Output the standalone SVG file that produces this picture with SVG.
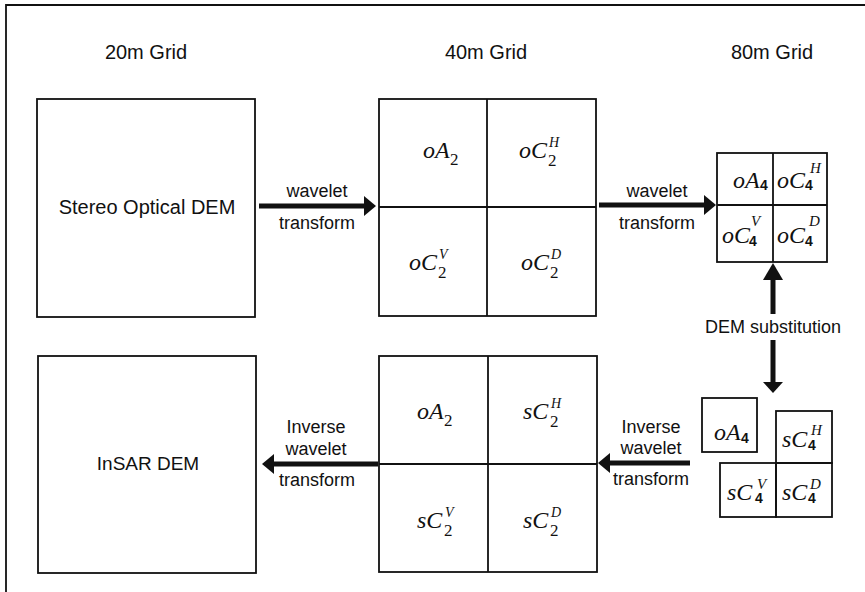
<svg xmlns="http://www.w3.org/2000/svg" width="865" height="592" viewBox="0 0 865 592">
<style>
.box{fill:none;stroke:#111;stroke-width:1.8}
.div{stroke:#111;stroke-width:1.8}
.t{font-family:"Liberation Sans",Arial,sans-serif;fill:#111;text-anchor:middle}
.title{font-size:20px}
.lbl{font-size:20px}
.al{font-size:18px}
.m{font-family:"Liberation Serif","Times New Roman",serif;font-style:italic;font-size:24px;fill:#111}
.sp{font-family:"Liberation Serif","Times New Roman",serif;font-style:italic;font-size:14px;fill:#111}
.sb{font-family:"Liberation Serif","Times New Roman",serif;font-size:17px;fill:#111}
.sp4{font-family:"Liberation Serif","Times New Roman",serif;font-style:italic;font-size:15px;fill:#111}
.sb4{font-family:"Liberation Sans",Arial,sans-serif;font-weight:bold;font-size:14px;fill:#111}
.shaft{stroke:#111;stroke-width:5;fill:none}
.head{fill:#111}
</style>
<rect width="865" height="592" fill="#fff"/>
<path d="M6,592 V5 H865" fill="none" stroke="#111" stroke-width="1.8"/>

<g id="titles">
<text class="t title" x="146" y="59">20m Grid</text>
<text class="t title" x="486" y="59">40m Grid</text>
<text class="t title" x="772" y="59">80m Grid</text>
</g>

<g id="stereo-dem">
<rect class="box" x="37" y="99" width="218" height="218"/>
<text class="t lbl" x="147" y="214">Stereo Optical DEM</text>
</g>

<g id="insar-dem">
<rect class="box" x="38" y="356" width="218" height="217"/>
<text class="t lbl" x="148" y="470" style="font-size:19px">InSAR DEM</text>
</g>

<g id="optical-40m">
<rect class="box" x="379" y="99" width="217" height="217"/>
<line class="div" x1="379" y1="207" x2="596" y2="207"/>
<line class="div" x1="487" y1="99" x2="487" y2="316"/>
<text class="m" x="423" y="158">oA</text><text class="sb" x="450" y="165">2</text>
<text class="m" x="519" y="158">oC</text><text class="sp" x="549" y="147">H</text><text class="sb" x="548" y="166">2</text>
<text class="m" x="409" y="270">oC</text><text class="sp" x="439" y="259">V</text><text class="sb" x="438" y="278">2</text>
<text class="m" x="521" y="270">oC</text><text class="sp" x="551" y="259">D</text><text class="sb" x="550" y="278">2</text>
</g>

<g id="synth-40m">
<rect class="box" x="379" y="356" width="218" height="216"/>
<line class="div" x1="379" y1="464" x2="597" y2="464"/>
<line class="div" x1="488" y1="356" x2="488" y2="572"/>
<text class="m" x="417" y="419">oA</text><text class="sb" x="444" y="426">2</text>
<text class="m" x="523" y="419">sC</text><text class="sp" x="551" y="408">H</text><text class="sb" x="550" y="427">2</text>
<text class="m" x="417" y="528">sC</text><text class="sp" x="445" y="517">V</text><text class="sb" x="444" y="536">2</text>
<text class="m" x="523" y="528">sC</text><text class="sp" x="551" y="517">D</text><text class="sb" x="550" y="536">2</text>
</g>

<g id="optical-80m">
<rect class="box" x="717" y="153" width="110" height="109"/>
<line class="div" x1="717" y1="205" x2="827" y2="205"/>
<line class="div" x1="773" y1="153" x2="773" y2="262"/>
<text class="m" x="733" y="188">oA</text><text class="sb4" x="760" y="190">4</text>
<text class="m" x="777" y="188">oC</text><text class="sp4" x="810" y="173">H</text><text class="sb4" x="805" y="190">4</text>
<text class="m" x="722" y="243">oC</text><text class="sp4" x="751" y="226">V</text><text class="sb4" x="749" y="246">4</text>
<text class="m" x="777" y="243">oC</text><text class="sp4" x="809" y="226">D</text><text class="sb4" x="805" y="246">4</text>
</g>

<g id="oA4-box">
<rect class="box" x="702" y="398" width="55" height="54"/>
<text class="m" x="714" y="440">oA</text><text class="sb4" x="741" y="443">4</text>
</g>

<g id="synth-80m">
<rect class="box" x="776" y="411" width="56" height="52"/>
<rect class="box" x="720" y="463" width="56" height="54"/>
<rect class="box" x="776" y="463" width="56" height="54"/>
<text class="m" x="782" y="447">sC</text><text class="sp4" x="811" y="435">H</text><text class="sb4" x="808" y="450">4</text>
<text class="m" x="727" y="500">sC</text><text class="sp4" x="757" y="489">V</text><text class="sb4" x="755" y="503">4</text>
<text class="m" x="782" y="500">sC</text><text class="sp4" x="810" y="489">D</text><text class="sb4" x="808" y="503">4</text>
</g>

<g id="connectors">
<line class="shaft" x1="259" y1="206" x2="366" y2="206"/>
<polygon class="head" points="376,206 364,196 364,216"/>
<line class="shaft" x1="599" y1="205" x2="706" y2="205"/>
<polygon class="head" points="716,205 704,195 704,215"/>
<line class="shaft" x1="378" y1="464" x2="272" y2="464"/>
<polygon class="head" points="262,464 274,454 274,474"/>
<line class="shaft" x1="690" y1="463" x2="608" y2="463"/>
<polygon class="head" points="598,463 610,453 610,473"/>
<line class="shaft" x1="773" y1="314" x2="773" y2="274"/>
<polygon class="head" points="773,263 763,280 783,280"/>
<line class="shaft" x1="773" y1="340" x2="773" y2="384"/>
<polygon class="head" points="773,393 763,382 783,382"/>
</g>

<g id="connector-labels">
<text class="t al" x="317" y="197">wavelet</text>
<text class="t al" x="317" y="229">transform</text>
<text class="t al" x="657" y="197">wavelet</text>
<text class="t al" x="657" y="229">transform</text>
<text class="t al" x="316" y="433">Inverse</text>
<text class="t al" x="316" y="455">wavelet</text>
<text class="t al" x="317" y="486">transform</text>
<text class="t al" x="651" y="433">Inverse</text>
<text class="t al" x="651" y="454">wavelet</text>
<text class="t al" x="651" y="485">transform</text>
<text class="t al" x="773" y="333">DEM substitution</text>
</g>
</svg>
